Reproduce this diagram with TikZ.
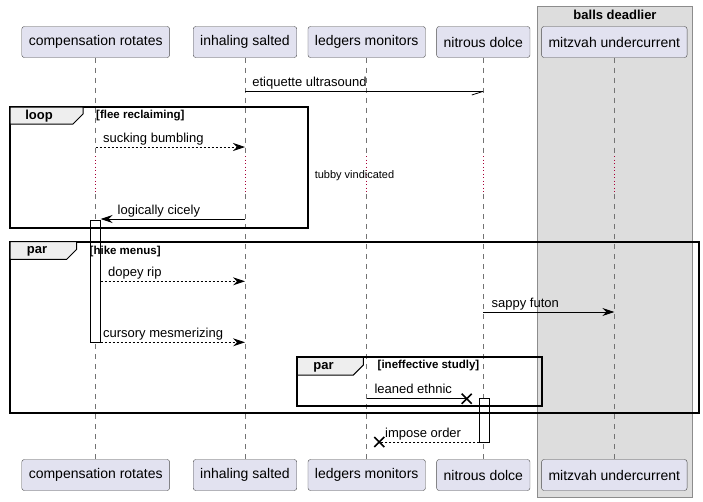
\documentclass[tikz,border=0pt]{standalone}
\usepackage{fontspec}
\setmainfont{Liberation Sans}
\usepackage{xcolor}
\usetikzlibrary{arrows.meta, positioning}
\definecolor{partfill}{HTML}{E2E2F0}
\definecolor{boxfill}{HTML}{DDDDDD}
\definecolor{tabfill}{HTML}{EEEEEE}
\definecolor{delayred}{HTML}{A80036}
\tikzset{
  part/.style={draw=black!70, fill=partfill, rounded corners=2.5pt, minimum height=31pt,
    inner xsep=7pt, font=\fontsize{14}{16}\selectfont},
  life/.style={draw=black!55, line width=0.7pt, dash pattern=on 5pt off 5pt},
  delayline/.style={draw=delayred, line width=1pt, dash pattern=on 1pt off 2.5pt},
  msg/.style={line width=0.8pt},
  reply/.style={line width=0.8pt, dash pattern=on 2pt off 2pt},
  tip/.style={-{Stealth[length=12pt, width=8pt, inset=4pt]}},
  lbl/.style={font=\fontsize{13}{15}\selectfont, inner sep=0pt, anchor=base west},
  frame/.style={line width=2pt},
  tab/.style={line width=1pt, fill=tabfill},
  gname/.style={font=\bfseries\fontsize{13}{15}\selectfont, inner sep=0pt},
  gcond/.style={font=\bfseries\fontsize{11.5}{13}\selectfont, inner sep=0pt, anchor=west},
  act/.style={draw=black, fill=white, line width=0.8pt},
  lost/.style={line width=1.6pt}
}
\begin{document}
\begin{tikzpicture}[x=1pt, y=-1pt]
\useasboundingbox (0,0) rectangle (703,501);

% box round the last participant
\draw[draw=black!45, fill=boxfill] (537.3,6) rectangle (692.3,497);
\node[gname] (bd) at (615,15) {balls deadlier};

% participants and lifelines
\foreach \n/\x/\t in {cr/95.7/compensation rotates, is/245/inhaling salted,
    lm/366.7/ledgers monitors, nd/483.3/nitrous dolce, mu/614.3/mitzvah undercurrent} {
  \node[part] (\n-t) at (\x,42) {\t};
  \node[part] (\n-b) at (\x,475) {\t};
  \coordinate (\n-d1) at (\x,156);
  \coordinate (\n-d2) at (\x,194);
  \draw[life] (\n-t) -- (\n-d1);
  \draw[delayline] (\n-d1) -- (\n-d2);
  \draw[life] (\n-d2) -- (\n-b);
}

% activations
\draw[act] (90.7,220) rectangle (100.7,342.3);
\draw[act] (479.3,398.3) rectangle (489.3,442);

% etiquette ultrasound
\coordinate (eu1) at (245,91.3);
\coordinate (eu2) at (483.3,91.3);
\draw[msg] (eu1) -- (eu2)
  node[lbl, at start, xshift=7pt, yshift=5pt] {etiquette ultrasound};
\draw[msg] (eu2) -- ++(-11.5,3.7);

% loop
\draw[frame] (10,107) rectangle (307.7,227.7);
\draw[tab] (10,107) -- (83,107) -- (83,114) -- (73,124) -- (10,124) -- cycle;
\node[gname] (lp) at (39,116) {loop};
\node[gcond] (lpc) at (96,116) {[flee reclaiming]};

\coordinate (sb1) at (95.7,147);
\coordinate (sb2) at (245,147);
\draw[reply, tip] (sb1) -- (sb2)
  node[lbl, at start, xshift=7pt, yshift=5pt] {sucking bumbling};

\node[font=\fontsize{11}{13}\selectfont, inner sep=0pt] (tv) at (354.5,176) {tubby vindicated};

\coordinate (lc1) at (245,219);
\coordinate (lc2) at (100.7,219);
\draw[msg, tip] (lc1) -- (lc2)
  node[lbl, at end, xshift=16.6pt, yshift=5pt] {logically cicely};

% par
\draw[frame] (10,241.7) rectangle (698.5,412.7);
\draw[tab] (10,241.7) -- (76.7,241.7) -- (76.7,249.3) -- (66.7,259.3) -- (10,259.3) -- cycle;
\node[gname] (pr) at (37,251.7) {par};
\node[gcond] (prc) at (89.5,251.7) {[hike menus]};

\coordinate (dr1) at (100.7,281.3);
\coordinate (dr2) at (245,281.3);
\draw[reply, tip] (dr1) -- (dr2)
  node[lbl, at start, xshift=7pt, yshift=5pt] {dopey rip};

\coordinate (sf1) at (483.3,312);
\coordinate (sf2) at (614.3,312);
\draw[msg, tip] (sf1) -- (sf2)
  node[lbl, at start, xshift=8pt, yshift=5pt] {sappy futon};

\coordinate (cm1) at (100.7,342.3);
\coordinate (cm2) at (245,342.3);
\draw[reply, tip] (cm1) -- (cm2)
  node[lbl, at start, xshift=2pt, yshift=5pt] {cursory mesmerizing};

% inner par
\draw[frame] (297.3,357.3) rectangle (541.7,406);
\draw[tab] (297.3,357.3) -- (363.3,357.3) -- (363.3,365) -- (353.3,375) -- (297.3,375) -- cycle;
\node[gname] (ip) at (323.5,367) {par};
\node[gcond] (ipc) at (377.5,366) {[ineffective studly]};

\coordinate (le1) at (366.7,398.7);
\coordinate (le2) at (466.7,398.7);
\draw[msg] (le1) -- (le2)
  node[lbl, at start, xshift=7.5pt, yshift=5pt] {leaned ethnic};
\draw[lost] (le2) ++(-5,-5) -- ++(10,10) (le2) ++(-5,5) -- ++(10,-10);

\coordinate (io1) at (479.3,442);
\coordinate (io2) at (379.3,442);
\draw[reply] (io1) -- (io2)
  node[lbl, at end, xshift=5.5pt, yshift=5pt] {impose order};
\draw[lost] (io2) ++(-5,-5) -- ++(10,10) (io2) ++(-5,5) -- ++(10,-10);
\end{tikzpicture}
\end{document}
